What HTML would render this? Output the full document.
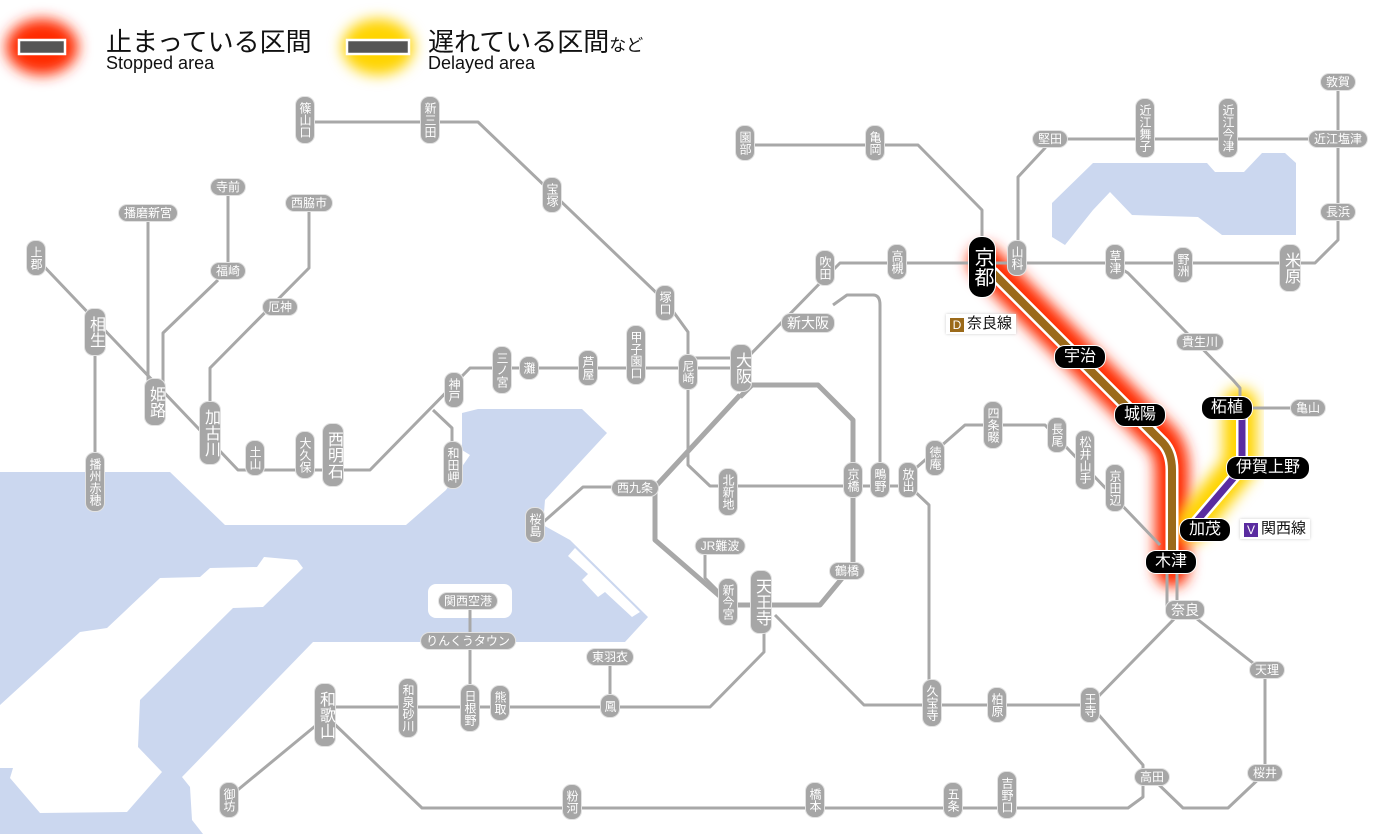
<!DOCTYPE html>
<html><head><meta charset="utf-8">
<style>
*{margin:0;padding:0;box-sizing:border-box}
body{width:1400px;height:834px;background:#fff;position:relative;overflow:hidden;font-family:"Liberation Sans","Noto Sans CJK JP",sans-serif}
svg{position:absolute;left:0;top:0}
.s{position:absolute;transform:translate(-50%,-50%);background:#a6a6a6;color:#fff;font-size:12px;line-height:14px;border-radius:9px;border:1px solid #e2e2e2;white-space:nowrap;padding:1px 5px;font-family:"Liberation Sans","Noto Sans CJK JP",sans-serif}
.v{writing-mode:vertical-rl;padding:5px 1px;line-height:16px;letter-spacing:0}
.m{font-size:16px;line-height:20px}
.v.m{padding:7px 0}
.b{background:#000;border-color:#fff;font-size:16px;line-height:20px;padding:1px 9px;border-radius:11px}
.lab{position:absolute;background:#fff;box-shadow:0 0 3px #ccc;font-size:15px;line-height:18px;padding:1px 4px;color:#111;white-space:nowrap}
.lab i{font-style:normal;display:inline-block;width:14px;height:14px;line-height:14px;text-align:center;color:#fff;font-size:12px;margin-right:3px;vertical-align:-1px}
.lg1{position:absolute;font-size:26px;color:#111;white-space:nowrap}
.lg2{position:absolute;font-size:18px;color:#111;white-space:nowrap}
</style></head><body>
<svg width="1400" height="834" viewBox="0 0 1400 834">
<defs>
<filter id="bl" x="-50%" y="-50%" width="200%" height="200%"><feGaussianBlur stdDeviation="7"/></filter>
<filter id="bl2" x="-50%" y="-50%" width="200%" height="200%"><feGaussianBlur stdDeviation="7"/></filter>
</defs>
<g fill="#cbd7ef">
<polygon points="0,472 170,472 225,525 406,525 446,490 470,455 462,450 462,413 478,409 582,409 607,433 545,500 543,525 570,540 648,617 625,642 313,642 182,777 190,787 192,820 203,834 0,834"/>
<polygon points="1052,203 1052,237 1065,245 1093,210 1110,192 1132,215 1198,217 1222,235 1296,235 1296,163 1285,153 1262,153 1244,172 1215,172 1207,163 1093,163"/>
</g>
<g fill="#fff">
<polygon points="264,557 297,560 303,568 263,607 233,608 140,700 138,747 162,772 127,812 40,813 10,778 13,768 0,768 0,705 80,632 107,628 160,578 200,577 210,568 257,567"/>
<polygon points="575,548 640,612 632,617 605,592 598,597 582,580 588,574 568,556"/>
<rect x="428" y="584" width="84" height="34" rx="8"/>
</g>
<path d="M985 262 L1163 440 Q1172 452 1172 470 V570" stroke="#ff2a00" stroke-width="34" fill="none" filter="url(#bl)" stroke-linecap="round"/>
<path d="M1240 405 V465 L1192 525" stroke="#ffd400" stroke-width="34" fill="none" filter="url(#bl)" stroke-linecap="round"/>
<g stroke="#a8a8a8" stroke-width="3" fill="none" stroke-linejoin="round">
<path d="M305 122 H478 L667 303 L688 332 V372"/>
<path d="M228 187 V271"/><path d="M218 280 L163 333 V395"/>
<path d="M148 213 V395"/>
<path d="M309 203 V268 L210 368 V430"/>
<path d="M36 258 L95 320"/>
<path d="M95 320 L238 470 H370 L470 368 H740"/>
<path d="M95 330 V485"/>
<path d="M433 410 L452 428 V465"/>
<path d="M688 358 H740"/>
<path d="M745 360 L825 278 L840 263 H1315 L1338 240 V82"/>
<path d="M833 305 L847 295 H873 Q880 295 880 305 V478"/>
<path d="M908 485 L929 505 V705"/>
<path d="M908 475 L965 425 H1045 L1160 545"/>
<path d="M688 372 V465 L710 486 H908"/>
<path d="M635 487 H583 L540 525"/>
<path d="M705 547 V578 L725 598"/>
<path d="M764 605 V652 L710 707 H325"/>
<path d="M470 600 V707"/>
<path d="M610 657 V707"/>
<path d="M775 615 L864 705 H1090"/>
<path d="M1090 705 L1178 615"/>
<path d="M1192 615 L1258 667 M1265 670 V773 L1228 808 H1183 L1154 780"/>
<path d="M1090 705 L1143 765 V797 L1128 808 H422 L325 715"/>
<path d="M325 718 L228 798"/>
<path d="M982 262 V210 L918 145 H744"/>
<path d="M1018 262 V177 L1045 148 L1049 139 H1338"/>
<path d="M1115 265 L1128 273 L1233 380 L1240 388 V408"/>
<path d="M1240 408 H1308"/>
<path d="M1167 560 V612 M1177 560 V612"/>
</g>
<path d="M740 397 L752 385 H818 L853 420 V565 L820 605 H730 L655 540 V487 L740 395" stroke="#a8a8a8" stroke-width="5" fill="none" stroke-linejoin="round"/>
<path d="M992 272 L1163 443 Q1172 453 1172 470 V560" stroke="#fff" stroke-width="13" fill="none"/>
<path d="M992 272 L1163 443 Q1172 453 1172 470 V560" stroke="#9b6a1a" stroke-width="8" fill="none"/>
<path d="M1242 408 V468 L1195 523" stroke="#fff" stroke-width="12" fill="none"/>
<path d="M1242 408 V468 L1195 523" stroke="#5a2ca0" stroke-width="7" fill="none"/>
<ellipse cx="42" cy="47" rx="36" ry="28" fill="#ff2a00" filter="url(#bl2)"/>
<rect x="19" y="40" width="46" height="14" fill="#555" stroke="#fff" stroke-width="2.5"/>
<ellipse cx="378" cy="47" rx="36" ry="28" fill="#ffd400" filter="url(#bl2)"/>
<rect x="347" y="40" width="62" height="14" fill="#555" stroke="#fff" stroke-width="2.5"/>
</svg>
<div class="lg1" style="left:106px;top:22px">止まっている区間</div>
<div class="lg2" style="left:106px;top:53px">Stopped area</div>
<div class="lg1" style="left:428px;top:22px">遅れている区間<span style="font-size:17px">など</span></div>
<div class="lg2" style="left:428px;top:53px">Delayed area</div>

<div class="s v" style="left:305px;top:120px">篠山口</div>
<div class="s v" style="left:430px;top:120px">新三田</div>
<div class="s v" style="left:552px;top:195px">宝塚</div>
<div class="s v" style="left:36px;top:258px">上郡</div>
<div class="s v" style="left:665px;top:303px">塚口</div>
<div class="s v" style="left:95px;top:482px">播州赤穂</div>
<div class="s v" style="left:255px;top:458px">土山</div>
<div class="s v" style="left:305px;top:455px">大久保</div>
<div class="s v" style="left:454px;top:390px">神戸</div>
<div class="s v" style="left:502px;top:370px">三ノ宮</div>
<div class="s v" style="left:529px;top:368px">灘</div>
<div class="s v" style="left:588px;top:368px">芦屋</div>
<div class="s v" style="left:636px;top:355px">甲子園口</div>
<div class="s v" style="left:688px;top:372px">尼崎</div>
<div class="s v" style="left:453px;top:465px">和田岬</div>
<div class="s v" style="left:825px;top:268px">吹田</div>
<div class="s v" style="left:897px;top:262px">高槻</div>
<div class="s v" style="left:728px;top:492px">北新地</div>
<div class="s v" style="left:853px;top:480px">京橋</div>
<div class="s v" style="left:880px;top:480px">鴫野</div>
<div class="s v" style="left:908px;top:480px">放出</div>
<div class="s v" style="left:935px;top:458px">徳庵</div>
<div class="s v" style="left:993px;top:425px">四条畷</div>
<div class="s v" style="left:1057px;top:435px">長尾</div>
<div class="s v" style="left:1085px;top:460px">松井山手</div>
<div class="s v" style="left:1115px;top:488px">京田辺</div>
<div class="s v" style="left:728px;top:602px">新今宮</div>
<div class="s v" style="left:408px;top:708px">和泉砂川</div>
<div class="s v" style="left:470px;top:708px">日根野</div>
<div class="s v" style="left:500px;top:703px">熊取</div>
<div class="s v" style="left:610px;top:706px">鳳</div>
<div class="s v" style="left:932px;top:703px">久宝寺</div>
<div class="s v" style="left:997px;top:705px">柏原</div>
<div class="s v" style="left:1090px;top:705px">王寺</div>
<div class="s v" style="left:572px;top:802px">粉河</div>
<div class="s v" style="left:815px;top:800px">橋本</div>
<div class="s v" style="left:953px;top:800px">五条</div>
<div class="s v" style="left:1007px;top:795px">吉野口</div>
<div class="s v" style="left:229px;top:800px">御坊</div>
<div class="s v" style="left:745px;top:143px">園部</div>
<div class="s v" style="left:875px;top:143px">亀岡</div>
<div class="s v" style="left:1145px;top:128px">近江舞子</div>
<div class="s v" style="left:1228px;top:128px">近江今津</div>
<div class="s v" style="left:1017px;top:258px">山科</div>
<div class="s v" style="left:1115px;top:262px">草津</div>
<div class="s v" style="left:1183px;top:265px">野洲</div>
<div class="s v" style="left:535px;top:525px">桜島</div>

<div class="s v m" style="left:95px;top:332px">相生</div>
<div class="s v m" style="left:155px;top:402px">姫路</div>
<div class="s v m" style="left:210px;top:433px">加古川</div>
<div class="s v m" style="left:333px;top:455px">西明石</div>
<div class="s v m" style="left:741px;top:368px">大阪</div>
<div class="s v m" style="left:761px;top:602px">天王寺</div>
<div class="s v m" style="left:325px;top:715px">和歌山</div>
<div class="s v m" style="left:1290px;top:268px">米原</div>

<div class="s" style="left:228px;top:187px">寺前</div>
<div class="s" style="left:148px;top:213px">播磨新宮</div>
<div class="s" style="left:309px;top:203px">西脇市</div>
<div class="s" style="left:228px;top:271px">福崎</div>
<div class="s" style="left:280px;top:307px">厄神</div>
<div class="s" style="left:808px;top:323px;font-size:14px;line-height:16px">新大阪</div>
<div class="s" style="left:635px;top:488px">西九条</div>
<div class="s" style="left:720px;top:546px">JR難波</div>
<div class="s" style="left:847px;top:571px">鶴橋</div>
<div class="s" style="left:468px;top:601px">関西空港</div>
<div class="s" style="left:468px;top:641px">りんくうタウン</div>
<div class="s" style="left:610px;top:657px">東羽衣</div>
<div class="s" style="left:1185px;top:610px;font-size:14px;line-height:16px">奈良</div>
<div class="s" style="left:1267px;top:670px">天理</div>
<div class="s" style="left:1265px;top:773px">桜井</div>
<div class="s" style="left:1152px;top:777px">高田</div>
<div class="s" style="left:1050px;top:139px">堅田</div>
<div class="s" style="left:1338px;top:139px">近江塩津</div>
<div class="s" style="left:1338px;top:82px">敦賀</div>
<div class="s" style="left:1338px;top:212px">長浜</div>
<div class="s" style="left:1200px;top:342px">貴生川</div>
<div class="s" style="left:1308px;top:408px">亀山</div>

<div class="s v b" style="left:982px;top:267px;font-size:20px;line-height:24px;padding:10px 1px;border-radius:13px">京都</div>
<div class="s b" style="left:1080px;top:357px">宇治</div>
<div class="s b" style="left:1140px;top:415px">城陽</div>
<div class="s b" style="left:1227px;top:408px">柘植</div>
<div class="s b" style="left:1268px;top:468px">伊賀上野</div>
<div class="s b" style="left:1205px;top:530px">加茂</div>
<div class="s b" style="left:1171px;top:562px">木津</div>

<div class="lab" style="left:946px;top:314px"><i style="background:#9b6a1a">D</i>奈良線</div>
<div class="lab" style="left:1240px;top:519px"><i style="background:#5a2ca0">V</i>関西線</div>
</body></html>
